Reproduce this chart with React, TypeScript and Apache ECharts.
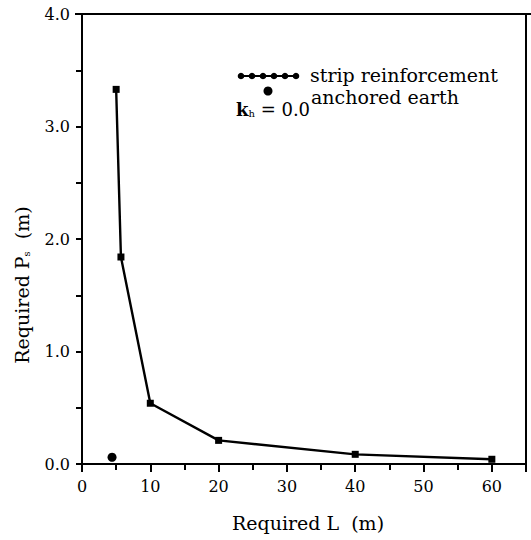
import React, { useEffect, useRef } from "react";
import * as echarts from "echarts";

const stripL = [5, 5.7, 10, 20, 40, 60];
const stripPs = [3.33, 1.84, 0.54, 0.21, 0.086, 0.042];
const anchoredL = [4.4];
const anchoredPs = [0.06];
const legendLabels = ["strip reinforcement", "anchored earth"];
const khText = "0.0";
const xTitle = "Required L  (m)";

const FONT = "DejaVu Serif";

export default function App() {
  const ref = useRef<HTMLDivElement>(null);
  useEffect(() => {
    if (!ref.current) return;
    const chart = echarts.init(ref.current, null, { renderer: "svg" });
    const legendDots = [0, 1, 2, 3, 4, 5].map((i) => ({
      type: "circle",
      shape: { cx: 241 + i * 11, cy: 76, r: 3.3 },
      style: { fill: "#000" },
    }));
    chart.setOption({
      animation: false,
      backgroundColor: "#fff",
      grid: {
        left: 82,
        right: 5,
        top: 14,
        bottom: 76,
        show: true,
        borderColor: "#000",
        borderWidth: 2,
      },
      xAxis: {
        type: "value",
        min: 0,
        max: 65,
        interval: 10,
        axisLine: { lineStyle: { color: "#000", width: 2 } },
        axisTick: { show: true, length: 8, lineStyle: { color: "#000", width: 2 } },
        minorTick: { show: true, splitNumber: 2, length: 6, lineStyle: { color: "#000", width: 2 } },
        splitLine: { show: false },
        minorSplitLine: { show: false },
        axisLabel: {
          color: "#000",
          fontFamily: FONT,
          fontSize: 16,
          margin: 14,
          showMaxLabel: false,
        },
      },
      yAxis: {
        type: "value",
        min: 0,
        max: 4,
        interval: 1,
        axisLine: { lineStyle: { color: "#000", width: 2 } },
        axisTick: { show: true, length: 6, lineStyle: { color: "#000", width: 2 } },
        minorTick: { show: true, splitNumber: 2, length: 6, lineStyle: { color: "#000", width: 2 } },
        splitLine: { show: false },
        minorSplitLine: { show: false },
        axisLabel: {
          color: "#000",
          fontFamily: FONT,
          fontSize: 16,
          margin: 12,
          formatter: (v: number) => v.toFixed(1),
        },
      },
      series: [
        {
          name: legendLabels[0],
          type: "line",
          data: stripL.map((x, i) => [x, stripPs[i]]),
          symbol: "rect",
          symbolSize: 7,
          lineStyle: { color: "#000", width: 2.4 },
          itemStyle: { color: "#000", opacity: 1 },
        },
        {
          name: legendLabels[1],
          type: "scatter",
          data: anchoredL.map((x, i) => [x, anchoredPs[i]]),
          symbol: "circle",
          symbolSize: 9,
          itemStyle: { color: "#000", opacity: 1 },
        },
      ],
      graphic: [
        { type: "line", shape: { x1: 75, y1: 14, x2: 531, y2: 14 }, style: { stroke: "#000", lineWidth: 2 } },
        { type: "line", shape: { x1: 238, y1: 76, x2: 298, y2: 76 }, style: { stroke: "#000", lineWidth: 2 } },
        ...legendDots,
        {
          type: "text",
          x: 310,
          y: 75,
          style: { text: legendLabels[0], font: `19px '${FONT}'`, fill: "#000", textVerticalAlign: "middle" },
        },
        { type: "circle", shape: { cx: 268, cy: 91, r: 4.5 }, style: { fill: "#000" } },
        {
          type: "text",
          x: 311,
          y: 97,
          style: { text: legendLabels[1], font: `19px '${FONT}'`, fill: "#000", textVerticalAlign: "middle" },
        },
        {
          type: "text",
          x: 236,
          y: 109,
          style: {
            text: `{k|k}{h|h}{e| = ${khText}}`,
            fill: "#000",
            textVerticalAlign: "middle",
            rich: {
              k: { fontFamily: FONT, fontSize: 18, fontWeight: "bold", color: "#000" },
              h: { fontFamily: FONT, fontSize: 10, color: "#000", verticalAlign: "bottom", padding: [6, 0, 0, 0] },
              e: { fontFamily: FONT, fontSize: 18, color: "#000" },
            },
          },
        },
        {
          type: "text",
          x: 22,
          y: 285,
          rotation: Math.PI / 2,
          style: {
            text: "{a|Required P}{s|s}{a|  (m)}",
            fill: "#000",
            textAlign: "center",
            textVerticalAlign: "middle",
            rich: {
              a: { fontFamily: FONT, fontSize: 19, color: "#000" },
              s: { fontFamily: FONT, fontSize: 10, color: "#000", verticalAlign: "bottom", padding: [6, 0, 0, 0] },
            },
          },
        },
        {
          type: "text",
          x: 308,
          y: 523,
          style: { text: xTitle, font: `19px '${FONT}'`, fill: "#000", textAlign: "center", textVerticalAlign: "middle" },
        },
      ],
    });
    return () => chart.dispose();
  }, []);
  return <div ref={ref} style={{ position: "fixed", left: 0, top: 0, width: 531, height: 540 }} />;
}
